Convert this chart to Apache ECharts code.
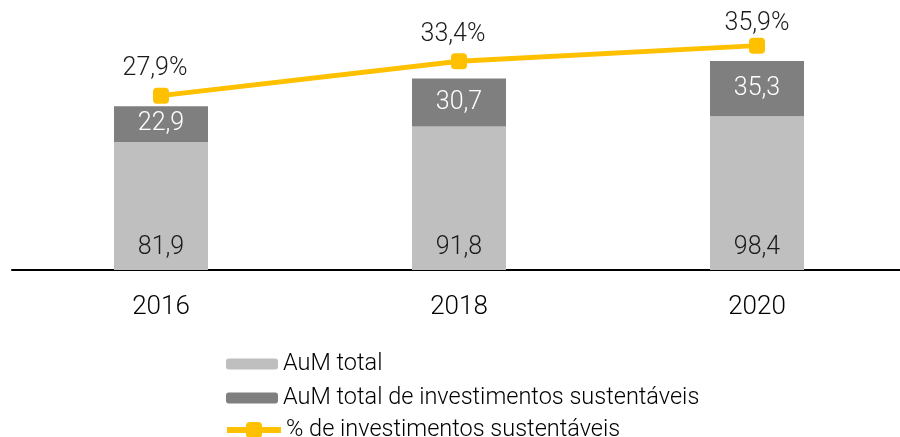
<!DOCTYPE html>
<html>
<head>
<meta charset="utf-8">
<script src="https://cdn.jsdelivr.net/npm/echarts@6/dist/echarts.min.js"></script>
<style>
  html, body { margin: 0; padding: 0; background: #fff; }
  #chart { width: 900px; height: 437px; }
</style>
</head>
<body>
<div id="chart"></div>
<script>
const years = ['2016', '2018', '2020']
const aumTotal = [81.9, 91.8, 98.4]
const aumSustentavel = [22.9, 30.7, 35.3]
const pctSustentavel = [27.9, 33.4, 35.9]

const fmt = (v) => String(v).replace('.', ',')
const font = 'Roboto'
const legendText = { fontFamily: font, fontWeight: 300, fontSize: 23.5, color: '#000' }

const chart = echarts.init(document.getElementById('chart'))
chart.setOption({
  animation: false,
  textStyle: { fontFamily: font, fontWeight: 300 },
  grid: { left: 12, right: -6, top: 20, bottom: 167, outerBoundsMode: 'none' },
  legend: [
    {
      orient: 'vertical',
      left: 226,
      top: 352,
      height: 200,
      padding: 0,
      itemWidth: 52,
      itemHeight: 11,
      itemGap: 10,
      textStyle: legendText,
      data: ['AuM total', 'AuM total de investimentos sustentáveis']
    },
    {
      // separate legend so the line icon can be taller than the bar swatches
      orient: 'vertical',
      left: 224,
      top: 418,
      height: 100,
      padding: 0,
      itemWidth: 54,
      itemHeight: 20,
      lineStyle: { width: 6 },
      textStyle: legendText,
      data: ['% de investimentos sustentáveis']
    }
  ],
  xAxis: {
    type: 'category',
    data: years,
    axisLine: { lineStyle: { color: '#000', width: 2 } },
    axisTick: { show: false },
    axisLabel: { fontSize: 26, color: '#000', fontWeight: 300, margin: 24 }
  },
  yAxis: [
    { type: 'value', min: 0, max: 160, show: false, splitLine: { show: false } },
    { type: 'value', min: 0, max: 40, show: false, splitLine: { show: false } }
  ],
  series: [
    {
      name: 'AuM total',
      type: 'bar',
      stack: 'aum',
      barWidth: 94,
      data: aumTotal,
      itemStyle: { color: '#BFBFBF' },
      label: {
        show: true, position: 'insideBottom', distance: 10,
        fontSize: 25, fontWeight: 300, color: '#1a1a1a',
        formatter: (p) => fmt(p.value)
      }
    },
    {
      name: 'AuM total de investimentos sustentáveis',
      type: 'bar',
      stack: 'aum',
      data: aumSustentavel,
      itemStyle: { color: '#7F7F7F' },
      label: {
        show: true, position: 'inside',
        fontSize: 25, fontWeight: 300, color: '#fff',
        formatter: (p) => fmt(p.value)
      }
    },
    {
      name: '% de investimentos sustentáveis',
      type: 'line',
      yAxisIndex: 1,
      // last label sits a bit lower and centred in the original
      data: pctSustentavel.map((v, i) => i === pctSustentavel.length - 1 ? { value: v, label: { offset: [0, 5] } } : v),
      symbol: 'roundRect',
      symbolSize: 16,
      lineStyle: { color: '#FFC000', width: 5 },
      itemStyle: { color: '#FFC000' },
      label: {
        show: true, position: 'top', distance: 6, offset: [-6, 0],
        fontSize: 25, fontWeight: 300, color: '#1a1a1a',
        formatter: (p) => fmt(p.value) + '%'
      }
    }
  ]
})
</script>
</body>
</html>
